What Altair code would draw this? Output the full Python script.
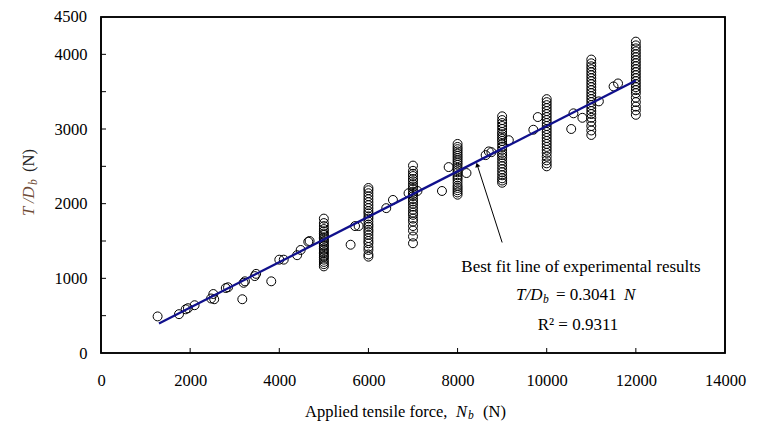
import altair as alt
import pandas as pd

# ---------------- data ----------------
# isolated test points
scatter_x = [1270, 1750, 1900, 1950, 2100, 2470, 2520, 2540, 2800, 2850, 3170, 3200, 3230,
             3450, 3480, 3820, 4000, 4100, 4400, 4480, 4650, 4680, 5600, 5700, 5780,
             6400, 6550, 6900, 7100, 7650, 7800, 8200, 8630, 8700, 8760, 9150, 9700, 9800,
             10550, 10600, 10800, 11170, 11500, 11600]
scatter_y = [490, 520, 585, 600, 640, 730, 790, 720, 870, 880, 720, 940, 960,
             1030, 1060, 960, 1250, 1250, 1310, 1380, 1490, 1500, 1450, 1700, 1700,
             1940, 2050, 2140, 2170, 2170, 2490, 2410, 2650, 2700, 2690, 2850, 2990, 3160,
             3000, 3210, 3150, 3370, 3570, 3610]

# repeated tests at fixed loads
cluster_loads = [5000, 6000, 7000, 8000, 9000, 10000, 11000, 12000]
cluster_5000 = [1160, 1190, 1220, 1250, 1280, 1300, 1330, 1350, 1380, 1400, 1430, 1450,
                1480, 1500, 1530, 1550, 1580, 1600, 1630, 1660, 1700, 1740, 1800]
cluster_6000 = [1290, 1320, 1380, 1420, 1470, 1500, 1540, 1580, 1620, 1650, 1690, 1720,
                1760, 1800, 1830, 1870, 1900, 1940, 1980, 2020, 2060, 2100, 2140, 2180, 2210]
cluster_7000 = [1470, 1560, 1640, 1700, 1760, 1800, 1850, 1880, 1920, 1960, 2000, 2030,
                2060, 2100, 2130, 2160, 2200, 2230, 2260, 2300, 2330, 2370, 2400, 2440, 2510]
cluster_8000 = [2120, 2150, 2180, 2210, 2240, 2280, 2320, 2350, 2380, 2420, 2450, 2480,
                2520, 2550, 2580, 2610, 2640, 2670, 2700, 2730, 2760, 2800]
cluster_9000 = [2280, 2310, 2340, 2380, 2420, 2460, 2500, 2540, 2580, 2620, 2650, 2680,
                2720, 2760, 2800, 2840, 2870, 2900, 2930, 2960, 3000, 3040, 3080, 3120, 3170]
cluster_10000 = [2500, 2540, 2580, 2630, 2680, 2720, 2760, 2800, 2840, 2880, 2920, 2960,
                 3000, 3040, 3080, 3120, 3160, 3200, 3240, 3280, 3320, 3360, 3400]
cluster_11000 = [2920, 2980, 3040, 3100, 3150, 3200, 3240, 3280, 3320, 3360, 3400, 3440,
                 3480, 3520, 3560, 3600, 3640, 3680, 3720, 3760, 3800, 3840, 3880, 3930]
cluster_12000 = [3190, 3250, 3300, 3360, 3420, 3480, 3520, 3560, 3600, 3640, 3680, 3720,
                 3760, 3800, 3840, 3880, 3920, 3960, 4000, 4040, 4080, 4120, 4170]
cluster_values = [cluster_5000, cluster_6000, cluster_7000, cluster_8000,
                  cluster_9000, cluster_10000, cluster_11000, cluster_12000]

# best fit line end points (T/Db = 0.3041 N)
fit_x = [1300, 12000]
fit_y = [395, 3649]

# arrow from the note to the fit line
arrow_tail = [9000, 1480]
arrow_head = [8440, 2520]

x_domain = [0, 14000]
y_domain = [0, 4500]
x_ticks = [2000, 4000, 6000, 8000, 10000, 12000]
y_ticks = [500, 1000, 1500, 2000, 2500, 3000, 3500, 4000]
x_labels = [0, 2000, 4000, 6000, 8000, 10000, 12000, 14000]
y_labels = [0, 500, 1000, 1500, 2000, 2500, 3000, 3500, 4000, 4500]
y_top_label = [4500]

# ---------------- tables ----------------
rows = [{"N": x, "T": y} for x, y in zip(scatter_x, scatter_y)]
for load, vals in zip(cluster_loads, cluster_values):
    rows += [{"N": load, "T": v} for v in vals]
pts = pd.DataFrame(rows)
fit = pd.DataFrame({"N": fit_x, "T": fit_y})
arrow = pd.DataFrame({"x": [arrow_tail[0]], "y": [arrow_tail[1]],
                      "x2": [arrow_head[0]], "y2": [arrow_head[1]]})
box = pd.DataFrame({"x": [x_domain[0]], "x2": [x_domain[1]],
                    "y": [y_domain[0]], "y2": [y_domain[1]]})
xt = pd.DataFrame({"v": x_ticks})
yt = pd.DataFrame({"v": y_ticks})
ytop = pd.DataFrame({"v": y_top_label})

FONT = "Liberation Serif"
FS = 16.5
W, H = 624, 336
YPAD = 14

xs = alt.Scale(domain=x_domain, nice=False, zero=False)
ys = alt.Scale(domain=y_domain, nice=False)

x_axis = alt.Axis(values=x_labels, format="d", ticks=False, tickSize=0, domain=False,
                  grid=False, labelPadding=19, title=None, labelFont=FONT, labelFlush=False,
                  labelOverlap=False, labelFontSize=FS, labelColor="black")
y_axis = alt.Axis(values=y_labels, format="d", ticks=False, tickSize=0, domain=False,
                  grid=False, labelPadding=YPAD, title=None, labelFont=FONT, labelFlush=False,
                  labelOverlap=False, labelFontSize=FS, labelColor="black")

frame = alt.Chart(box).mark_rect(fill="transparent", stroke="black",
                                 strokeWidth=1.6).encode(
    x=alt.X("x:Q", scale=xs, axis=x_axis), x2="x2:Q",
    y=alt.Y("y:Q", scale=ys, axis=y_axis), y2="y2:Q")

points = alt.Chart(pts).mark_point(shape="circle", filled=False, color="black",
                                   size=80, strokeWidth=1, opacity=1).encode(
    x=alt.X("N:Q", scale=xs), y=alt.Y("T:Q", scale=ys))

line = alt.Chart(fit).mark_line(color="#10108c", strokeWidth=2.3).encode(
    x=alt.X("N:Q", scale=xs), y=alt.Y("T:Q", scale=ys))

xtick = alt.Chart(xt).mark_rule(color="black", strokeWidth=1).encode(
    x=alt.X("v:Q", scale=xs), y=alt.value(H), y2=alt.value(H - 5))
ytick = alt.Chart(yt).mark_rule(color="black", strokeWidth=1).encode(
    y=alt.Y("v:Q", scale=ys), x=alt.value(0), x2=alt.value(5))

# top y label drawn at the same place as the axis label (in case the axis drops it)
ytop_label = alt.Chart(ytop).mark_text(font=FONT, fontSize=FS, align="right",
                                       baseline="middle", color="black").encode(
    y=alt.Y("v:Q", scale=ys), x=alt.value(-YPAD), text=alt.Text("v:Q", format="d"))

arrow_line = alt.Chart(arrow).mark_rule(color="black", strokeWidth=1).encode(
    x=alt.X("x:Q", scale=xs), y=alt.Y("y:Q", scale=ys),
    x2="x2:Q", y2="y2:Q")
arrow_tip = alt.Chart(arrow).mark_point(shape="triangle-up", filled=True, color="black",
                                        size=28, angle=342, opacity=1).encode(
    x=alt.X("x2:Q", scale=xs), y=alt.Y("y2:Q", scale=ys))


def txt(s, x, y, size=FS, style="normal", align="left", color="black", angle=0,
        baseline="middle"):
    kw = dict(text=s, font=FONT, fontSize=size, fontStyle=style, align=align,
              baseline=baseline, color=color)
    if angle:
        kw["angle"] = angle
    return alt.Chart(pd.DataFrame({"a": [0]})).mark_text(**kw).encode(
        x=alt.value(x), y=alt.value(y))


OX, OY = 101, 17  # plot origin on the page
notes = [
    txt("Best fit line of experimental results", 581 - OX, 267 - OY, size=17, align="center"),
    txt("T/D", 516 - OX, 295 - OY, size=17, style="italic"),
    txt("b", 543 - OX, 300 - OY, size=11.5, style="italic"),
    txt("= 0.3041", 556 - OX, 295 - OY, size=17),
    txt("N", 624 - OX, 295 - OY, size=17, style="italic"),
    txt("R² = 0.9311", 578 - OX, 325 - OY, size=17, align="center"),
    # x axis title
    txt("Applied tensile force,", 305 - OX, 412 - OY),
    txt("N", 456 - OX, 412 - OY, style="italic"),
    txt("b", 468 - OX, 416 - OY, size=11.5, style="italic"),
    txt("(N)", 483 - OX, 412 - OY),
    # y axis title (rotated)
    txt("T /D", 29 - OX, 216 - OY, style="italic", angle=270, color="#6e4a35"),
    txt("b", 34 - OX, 185 - OY, size=11.5, style="italic", angle=270, color="#6e4a35"),
    txt("(N)", 29 - OX, 172 - OY, angle=270, color="#222222"),
]

chart = alt.layer(frame, points, line, xtick, ytick, ytop_label, arrow_line, arrow_tip,
                  *notes).properties(
    width=W, height=H,
    autosize=alt.AutoSizeParams(type="none"),
    padding={"left": 93, "top": 9, "right": 37, "bottom": 71},
).configure_view(stroke="black", strokeWidth=1.6)

chart.save("out.html", embed_options={"renderer": "svg", "actions": False})
